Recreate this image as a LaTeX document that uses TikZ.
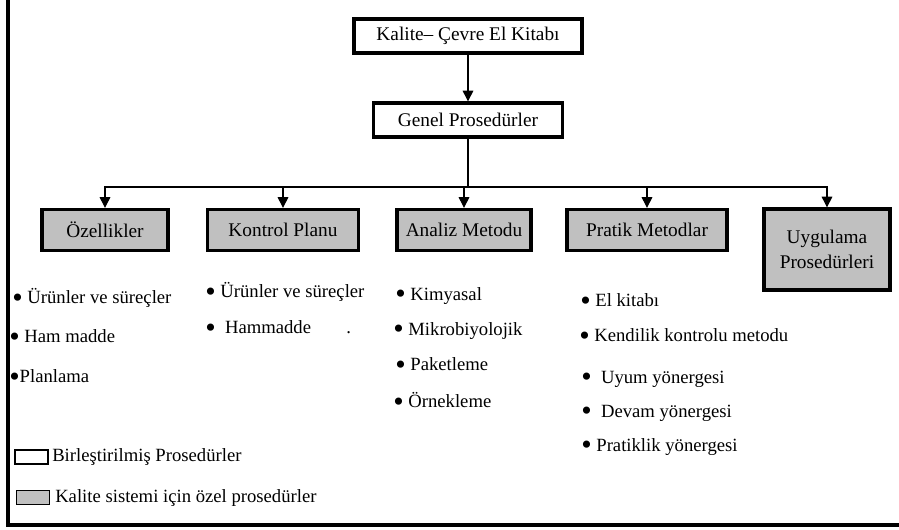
\documentclass[tikz,border=0pt]{standalone}
\usepackage{fontspec}
\setmainfont{Liberation Serif}
\usetikzlibrary{arrows.meta}
\definecolor{boxgray}{RGB}{192,192,192}
\tikzset{
  mainbox/.style={draw,line width=2.5pt,inner sep=0pt,align=center,font=\fontsize{14.5}{16}\selectfont},
  graybox/.style={mainbox,fill=boxgray},
  item/.style={anchor=west,inner sep=0pt,font=\fontsize{14}{15}\selectfont},
  legbox/.style={draw,line width=0.8pt,inner sep=0pt,minimum width=24.75pt,minimum height=10.5pt},
  conn/.style={line width=0.8pt,-{Triangle[width=8pt,length=8pt]}}
}
\newcommand{\bul}{\raisebox{-0.4ex}{\scalebox{1.6}{\textbullet}}}
\begin{document}
\begin{tikzpicture}[x=0.75pt,y=-0.75pt]
            \useasboundingbox (0,0) rectangle (899,529);
            \draw[line width=2.4pt] (8,0) -- (8,525) -- (899,525);

            \node (el) at (468,36) [mainbox,minimum width=171pt,minimum height=25.5pt] {Kalite– Çevre El Kitabı};
            \node (gp) at (468,120) [mainbox,minimum width=141.75pt,minimum height=25.5pt] {Genel Prosedürler};

            \node (oz) at (105,230) [graybox,minimum width=94.5pt,minimum height=30.75pt] {Özellikler};
            \node (kp) at (283,230) [graybox,minimum width=113.25pt,minimum height=30.75pt] {Kontrol Planu};
            \node (am) at (464,230) [graybox,minimum width=100.5pt,minimum height=30.75pt] {Analiz Metodu};
            \node (pm) at (647,230) [graybox,minimum width=120pt,minimum height=30.75pt] {Pratik Metodlar};
            \node (up) at (827,249.5) [graybox,minimum width=94.5pt,minimum height=60.75pt] {Uygulama\\[3pt]Prosedürleri};

            \coordinate (bus) at (468,187);
            \draw[conn] (el) -- (gp);
            \draw[line width=0.8pt] (gp) -- (bus);
            \draw[conn] (bus) -| (oz);
            \draw[conn] (bus) -| (kp);
            \draw[conn] (bus) -| (am);
            \draw[conn] (bus) -| (pm);
            \draw[conn] (bus) -| (up);

            % Ozellikler
            \node (a1) at (12,298) [item] {\bul\ Ürünler ve süreçler};
            \node (a2) at (9,338) [item] {\bul\ Ham madde};
            \node (a3) at (9,378) [item] {\bul Planlama};
            % Kontrol Plani
            \node (b1) at (205,292) [item] {\bul\ Ürünler ve süreçler};
            \node (b2) at (205,329) [item] {\bul\ \ Hammadde};
            \node (b3) at (346,333) [item] {.};
            % Analiz Metodu
            \node (c1) at (395,296) [item] {\bul\ Kimyasal};
            \node (c2) at (393,331) [item] {\bul\ Mikrobiyolojik};
            \node (c3) at (395,366) [item] {\bul\ Paketleme};
            \node (c4) at (393,402) [item] {\bul\ Örnekleme};
            % Pratik Metodlar
            \node (d1) at (580,302) [item] {\bul\ El kitabı};
            \node (d2) at (579,337) [item] {\bul\ Kendilik kontrolu metodu};
            \node (d3) at (581,379) [item] {\bul\ \ Uyum yönergesi};
            \node (d4) at (581,413) [item] {\bul\ \ Devam yönergesi};
            \node (d5) at (581,447) [item] {\bul\ Pratiklik yönergesi};

            % legend
            \node (l1) at (31.5,457) [legbox,fill=white] {};
            \node (l2) at (33,497.5) [legbox,fill=boxgray] {};
            \node (t1) at (52,457) [item] {Birleştirilmiş Prosedürler};
            \node (t2) at (55,498) [item] {Kalite sistemi için özel prosedürler};
        \end{tikzpicture}
\end{document}
